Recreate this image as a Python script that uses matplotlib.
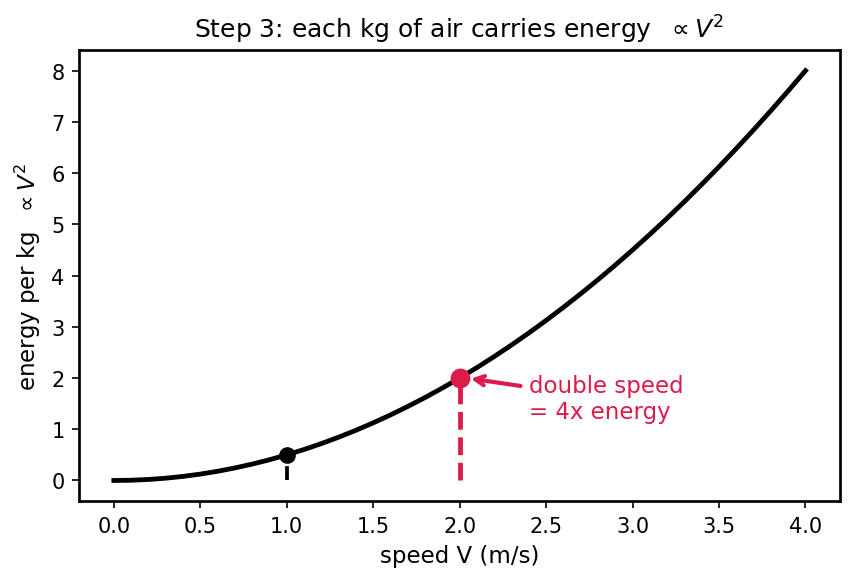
import matplotlib
matplotlib.use("Agg")
import matplotlib.pyplot as plt

# speed (m/s) and energy per kg
speed = [0.0, 0.1, 0.2, 0.3, 0.4, 0.5, 0.6, 0.7, 0.8, 0.9, 1.0,
         1.1, 1.2, 1.3, 1.4, 1.5, 1.6, 1.7, 1.8, 1.9, 2.0,
         2.1, 2.2, 2.3, 2.4, 2.5, 2.6, 2.7, 2.8, 2.9, 3.0,
         3.1, 3.2, 3.3, 3.4, 3.5, 3.6, 3.7, 3.8, 3.9, 4.0]
energy = [0.0, 0.005, 0.02, 0.045, 0.08, 0.125, 0.18, 0.245, 0.32, 0.405, 0.5,
          0.605, 0.72, 0.845, 0.98, 1.125, 1.28, 1.445, 1.62, 1.805, 2.0,
          2.205, 2.42, 2.645, 2.88, 3.125, 3.38, 3.645, 3.92, 4.205, 4.5,
          4.805, 5.12, 5.445, 5.78, 6.125, 6.48, 6.845, 7.22, 7.605, 8.0]

# highlighted points
base_v, base_e = 1.0, 0.5
double_v, double_e = 2.0, 2.0

red = "#dc1c4b"

fig, ax = plt.subplots(figsize=(5.68, 3.873), dpi=150)
fig.subplots_adjust(left=0.093, right=0.986, top=0.912, bottom=0.136)

ax.plot(speed, energy, color="black", lw=2.3, zorder=2)

ax.vlines(base_v, 0, base_e, colors="black", linestyles="--", lw=1.8, zorder=1)
ax.vlines(double_v, 0, double_e, colors=red, linestyles="--", lw=2.3, zorder=1)

ax.plot(base_v, base_e, "o", color="black", ms=7, zorder=3)
ax.plot(double_v, double_e, "o", color=red, ms=8.5, zorder=3)

ax.annotate("double speed\n= 4x energy", xy=(double_v + 0.04, double_e),
            xytext=(2.4, 1.6), va="center", ha="left", color=red, fontsize=11,
            arrowprops=dict(arrowstyle="->", color=red, lw=2))

ax.set_xlabel("speed V (m/s)", fontsize=11)
ax.set_ylabel(r"energy per kg  $\propto V^2$", fontsize=11)
ax.set_title(r"Step 3: each kg of air carries energy  $\propto V^2$", fontsize=12)
ax.tick_params(labelsize=10)
for s in ax.spines.values():
    s.set_linewidth(1.3)

fig.savefig("out.png", dpi=150)
